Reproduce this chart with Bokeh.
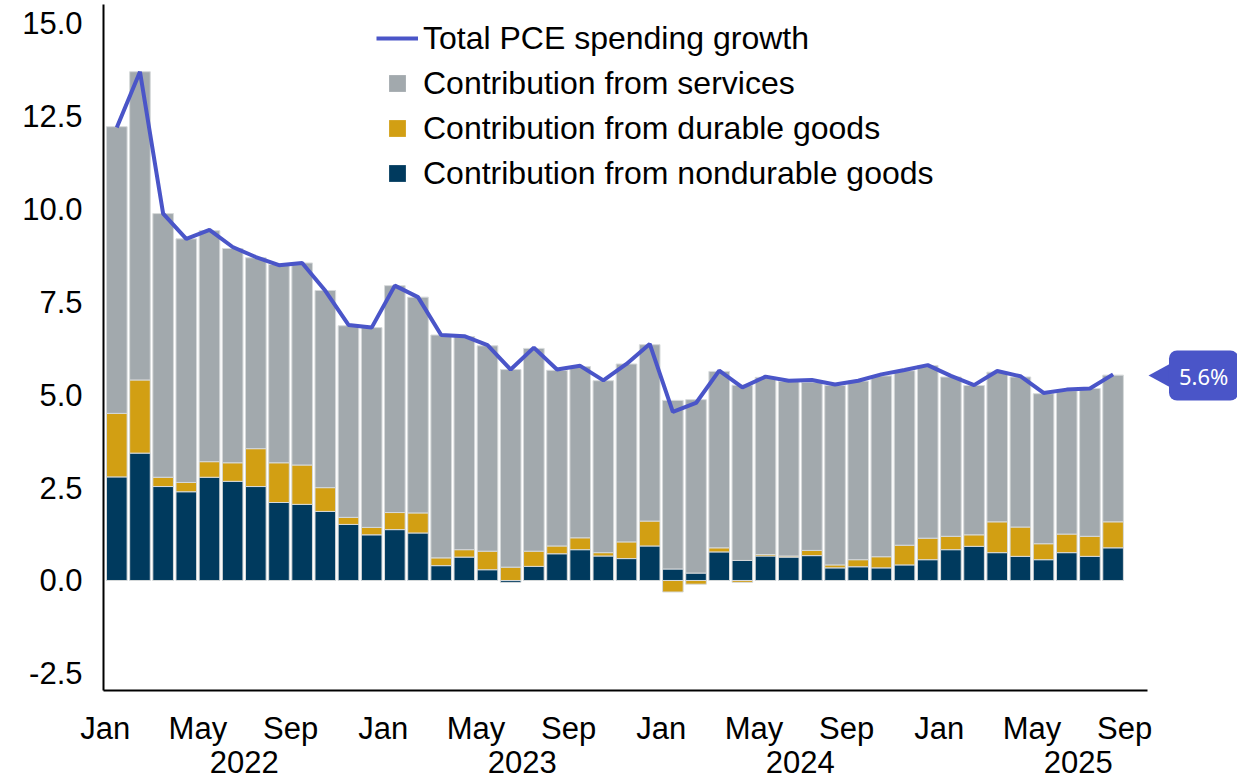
import numpy as np
import pandas as pd
from bokeh.plotting import figure
from bokeh.models import (FixedTicker, Legend, LegendItem, Label, PolyAnnotation,
                          NumeralTickFormatter, Range1d, LinearAxis)
from bokeh.embed import file_html
from bokeh.resources import INLINE

# ---------------- data ----------------
months = pd.period_range("2022-01", "2025-08", freq="M").strftime("%Y-%m").tolist()

nondurable = [2.79, 3.43, 2.53, 2.39, 2.78, 2.67, 2.53, 2.10, 2.05, 1.86, 1.51, 1.23,
              1.37, 1.28, 0.40, 0.63, 0.29, -0.05, 0.38, 0.72, 0.83, 0.66, 0.59, 0.93,
              0.31, 0.20, 0.77, 0.54, 0.66, 0.63, 0.67, 0.34, 0.37, 0.34, 0.42, 0.56,
              0.83, 0.92, 0.75, 0.65, 0.56, 0.75, 0.65, 0.88]
durable = [1.71, 1.97, 0.25, 0.25, 0.42, 0.50, 1.02, 1.07, 1.06, 0.64, 0.19, 0.20,
           0.46, 0.54, 0.21, 0.20, 0.50, 0.36, 0.41, 0.21, 0.32, 0.09, 0.45, 0.67,
           -0.31, -0.10, 0.11, -0.05, 0.04, 0.03, 0.14, 0.08, 0.19, 0.30, 0.53, 0.58,
           0.36, 0.31, 0.83, 0.79, 0.43, 0.50, 0.54, 0.70]
services = [7.72, 8.30, 7.10, 6.56, 6.22, 5.77, 5.14, 5.34, 5.44, 5.31, 5.16, 5.38,
            6.11, 5.81, 6.00, 5.74, 5.53, 5.32, 5.46, 4.73, 4.61, 4.63, 4.79, 4.75,
            4.54, 4.67, 4.75, 4.72, 4.77, 4.70, 4.53, 4.83, 4.81, 4.87, 4.70, 4.65,
            4.29, 4.02, 4.03, 4.04, 4.04, 3.86, 3.98, 3.95]
total = [12.20, 13.70, 9.88, 9.20, 9.44, 8.98, 8.71, 8.49, 8.55, 7.80, 6.88, 6.81,
         7.94, 7.63, 6.61, 6.58, 6.34, 5.68, 6.27, 5.68, 5.78, 5.39, 5.83, 6.37,
         4.54, 4.78, 5.65, 5.20, 5.49, 5.38, 5.40, 5.28, 5.38, 5.55, 5.67, 5.80,
         5.51, 5.26, 5.64, 5.50, 5.05, 5.14, 5.17, 5.55]

tick_months = ["2022-01", "2022-05", "2022-09", "2023-01", "2023-05", "2023-09",
               "2024-01", "2024-05", "2024-09", "2025-01", "2025-05", "2025-09"]
tick_labels = ["Jan", "May", "Sep", "Jan", "May", "Sep",
               "Jan", "May", "Sep", "Jan", "May", "Sep"]
year_labels = ["2022", "2023", "2024", "2025"]
y_ticks = [-2.5, 0.0, 2.5, 5.0, 7.5, 10.0, 12.5, 15.0]
callout_text = "5.6%"

series_names = ["Contribution from nondurable goods", "Contribution from durable goods",
                "Contribution from services"]
series_colors = ["#003A5E", "#D29F13", "#A2A9AD"]
line_name = "Total PCE spending growth"
line_color = "#4A55C8"

# ---------------- figure ----------------
start = pd.Period(months[0], freq="M")
def month_pos(m):
    return (pd.Period(m, freq="M") - start).n

x = np.arange(len(months))
x_lo, x_axis_hi, x_hi = -0.574, 44.48, 48.37

p = figure(width=1237, height=783, output_backend="svg", toolbar_location=None,
           x_range=Range1d(x_lo, x_hi), y_range=Range1d(-2.962, 15.51),
           min_border_left=103, min_border_right=0, min_border_top=4, min_border_bottom=93)
p.outline_line_color = None
p.grid.visible = False
p.background_fill_color = "white"

pos_base = np.zeros(len(x))
neg_base = np.zeros(len(x))
for vals, color in zip([nondurable, durable, services], series_colors):
    v = np.array(vals)
    bottom = np.where(v >= 0, pos_base, neg_base + v)
    top = np.where(v >= 0, pos_base + v, neg_base)
    pos_base = np.where(v >= 0, pos_base + v, pos_base)
    neg_base = np.where(v < 0, neg_base + v, neg_base)
    p.vbar(x=x, bottom=bottom, top=top, width=0.89, fill_color=color,
           line_color="#d6d9da", line_width=1)

line_r = p.line(x=x, y=total, line_color=line_color, line_width=4)

# legend proxies (squares), placed outside the visible range
proxies = {}
for name, color in zip(series_names, series_colors):
    proxies[name] = p.scatter(x=[x_lo - 10], y=[0], marker="square",
                              fill_color=color, line_color=None)

items = [LegendItem(label=line_name, renderers=[line_r]),
         LegendItem(label=series_names[2], renderers=[proxies[series_names[2]]]),
         LegendItem(label=series_names[1], renderers=[proxies[series_names[1]]]),
         LegendItem(label=series_names[0], renderers=[proxies[series_names[0]]])]
legend = Legend(items=items, location=(273, 496), glyph_width=42, glyph_height=42,
                spacing=3, label_standoff=5, padding=0, margin=0,
                border_line_color=None, background_fill_alpha=0,
                label_text_font="Liberation Sans", label_text_font_size="32px",
                label_text_color="black")
p.add_layout(legend)

# month axis
xa = p.xaxis[0]
xa.bounds = (x_lo, x_axis_hi)
xa.ticker = FixedTicker(ticks=[month_pos(m) - 0.5 for m in tick_months])
xa.major_label_overrides = {month_pos(m) - 0.5: lab for m, lab in zip(tick_months, tick_labels)}
xa.major_tick_line_color = None
xa.minor_tick_line_color = None
xa.axis_line_color = "black"
xa.axis_line_width = 2
xa.major_label_text_font = "Liberation Sans"
xa.major_label_text_font_size = "31px"
xa.major_label_text_color = "black"
xa.major_label_standoff = 14

# year axis
year_pos = [month_pos(y + "-07") - 0.5 for y in year_labels]
ya2 = LinearAxis(ticker=FixedTicker(ticks=year_pos),
                 major_label_overrides={pos: y for pos, y in zip(year_pos, year_labels)},
                 axis_line_color=None, major_tick_line_color=None, minor_tick_line_color=None,
                 major_label_text_font="Liberation Sans", major_label_text_font_size="31px",
                 major_label_text_color="black", major_label_standoff=-4)
p.add_layout(ya2, "below")

ya = p.yaxis[0]
ya.ticker = FixedTicker(ticks=y_ticks)
ya.formatter = NumeralTickFormatter(format="0.0")
ya.major_tick_line_color = None
ya.minor_tick_line_color = None
ya.axis_line_color = "black"
ya.axis_line_width = 2
ya.major_label_text_font = "Liberation Sans"
ya.major_label_text_font_size = "31px"
ya.major_label_text_color = "black"
ya.major_label_standoff = 15

# callout for the latest value
last_x = x[-1]
last_y = total[-1]
p.add_layout(PolyAnnotation(xs=[last_x + 1.53, last_x + 2.48, last_x + 2.48],
                            ys=[last_y - 0.03, last_y + 0.29, last_y - 0.35],
                            fill_color=line_color, fill_alpha=1.0, line_color=None))
p.add_layout(Label(x=last_x + 3.91, y=last_y - 0.03, text=callout_text,
                   text_align="center", text_baseline="middle",
                   text_font="Noto Sans", text_font_size="22px", text_color="white",
                   background_fill_color=line_color, background_fill_alpha=1.0,
                   padding=10, border_radius=8))

open("out.html", "w").write(file_html(p, INLINE))
